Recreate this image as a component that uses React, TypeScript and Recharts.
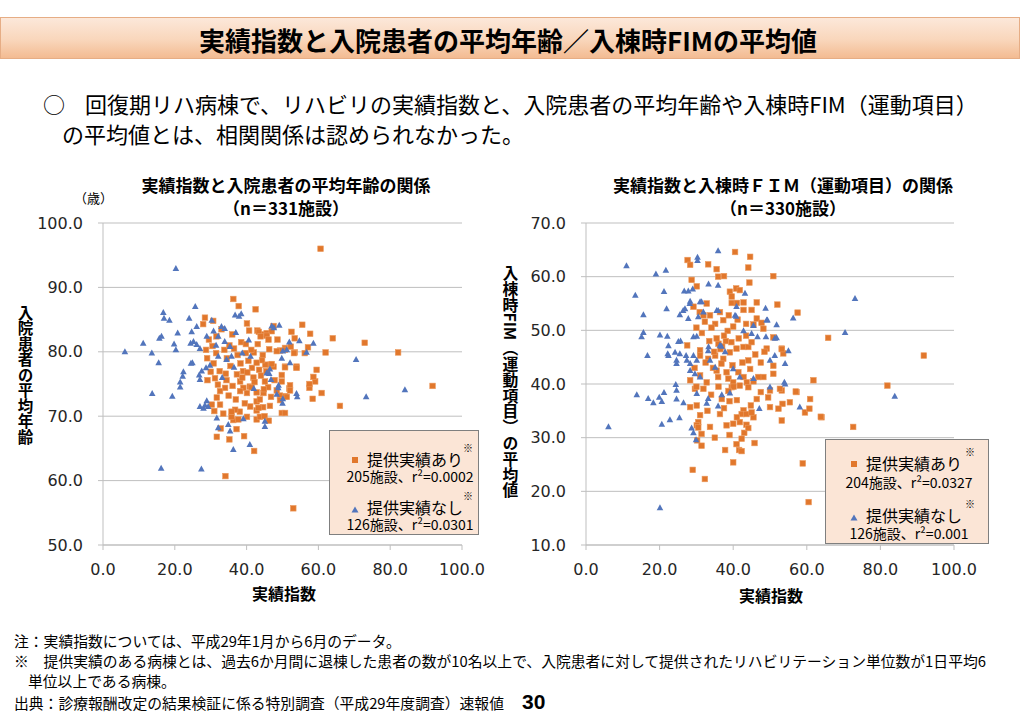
import React from 'react';
import { ScatterChart, Scatter, XAxis, YAxis, CartesianGrid } from 'recharts';

// 実績指数 × 入院患者の平均年齢（提供実績あり / なし）
const ageWith: [number, number][] = [
  [60.6, 96.0], [36.3, 88.2], [37.8, 87.1], [42.5, 86.6], [28.4, 85.3], [27.9, 84.3], [40.1, 84.4], [55.5, 84.2],
  [57.7, 82.8], [64.0, 82.1], [72.9, 81.4], [82.2, 79.9], [62.0, 79.9], [52.5, 83.1], [53.4, 82.1], [50.7, 80.6],
  [53.4, 79.9], [49.3, 80.2], [48.6, 81.9], [43.0, 83.3], [44.7, 82.7], [45.6, 82.9], [47.0, 83.2], [47.5, 84.0],
  [40.7, 83.3], [43.4, 83.1], [57.1, 80.7], [56.2, 79.8], [59.5, 77.2], [59.1, 75.4], [57.5, 74.4], [60.9, 73.6],
  [58.4, 72.7], [51.9, 74.3], [49.8, 75.4], [50.7, 73.1], [49.8, 70.5], [50.7, 70.5], [46.5, 71.6], [44.7, 73.6],
  [40.9, 74.6], [46.7, 78.0], [50.7, 77.7], [53.9, 77.7], [47.5, 77.7], [45.2, 78.0], [44.3, 78.7], [48.4, 80.1],
  [50.7, 80.3], [66.0, 71.6], [91.8, 74.7], [53.0, 55.7], [34.1, 60.7], [42.1, 64.6], [31.7, 66.8], [35.2, 66.4],
  [39.3, 66.9], [32.8, 68.1], [36.3, 69.4], [37.7, 69.5], [40.1, 69.9], [42.8, 69.5], [43.7, 69.9], [37.2, 68.0],
  [35.8, 69.9], [38.1, 70.7], [42.8, 70.9], [44.6, 71.4], [42.8, 72.3], [52.1, 74.8], [49.8, 76.4], [58.6, 76.1],
  [57.5, 75.0], [49.3, 73.2], [48.4, 74.0], [41.4, 74.5], [42.8, 73.7], [43.7, 72.6], [46.0, 74.5], [40.1, 73.6],
  [39.1, 74.4], [38.2, 73.9], [36.1, 74.7], [34.0, 74.4], [32.6, 73.9], [31.7, 72.9], [30.3, 71.8], [32.6, 71.8],
  [29.1, 75.6], [31.2, 75.9], [34.4, 75.6], [38.2, 75.4], [41.9, 76.0], [45.1, 75.4], [36.8, 71.0], [35.8, 70.7],
  [43.3, 71.3], [52.1, 74.0], [51.2, 73.0], [49.3, 72.5], [50.7, 77.6], [53.9, 77.5], [47.0, 78.1], [52.3, 80.8],
  [53.2, 79.8], [45.6, 82.5], [46.1, 81.9], [43.9, 82.4], [30.7, 84.8], [29.5, 81.9], [30.5, 80.9], [31.5, 79.8],
  [29.0, 79.0], [30.8, 78.2], [32.5, 77.0], [33.8, 80.3], [34.5, 79.0], [35.5, 77.8], [36.5, 80.5], [37.5, 79.5],
  [38.3, 78.2], [39.0, 77.0], [39.8, 79.8], [40.5, 78.6], [41.5, 77.5], [42.0, 79.9], [42.8, 78.3], [43.5, 77.2],
  [44.5, 79.5], [45.5, 77.0], [46.3, 80.4], [38.5, 81.5], [36.0, 82.7], [33.0, 83.5], [31.6, 82.4], [37.3, 76.5],
  [40.2, 76.8], [44.0, 76.3], [34.2, 76.6], [30.0, 76.9], [32.0, 74.9], [35.0, 73.2], [37.0, 72.6], [39.5, 72.0],
  [41.0, 71.5], [38.8, 76.0], [42.2, 75.3], [44.8, 74.2], [46.8, 73.0], [47.8, 75.6], [31.0, 70.8], [33.5, 70.4],
  [45.0, 70.0], [46.2, 69.3], [39.8, 81.2], [41.3, 80.3], [43.1, 81.2], [35.2, 81.0], [28.7, 80.3],
];

const ageWithout: [number, number][] = [
  [20.3, 92.9], [25.7, 87.0], [16.8, 86.1], [17.0, 85.2], [18.5, 84.9], [24.0, 85.2], [38.5, 85.9], [37.9, 85.5],
  [36.8, 85.7], [16.3, 82.4], [15.7, 82.1], [20.8, 82.9], [24.7, 83.1], [26.1, 83.9], [11.2, 81.3], [6.1, 80.0],
  [13.6, 79.8], [19.8, 81.2], [20.3, 80.3], [15.5, 78.3], [24.9, 78.3], [22.4, 76.9], [25.2, 81.6], [24.4, 81.3],
  [30.3, 84.9], [33.0, 83.9], [33.9, 83.6], [47.0, 84.0], [49.1, 84.1], [47.6, 83.7], [58.6, 81.3], [56.7, 79.9],
  [54.7, 81.7], [51.9, 81.5], [51.2, 80.3], [49.8, 79.0], [52.1, 78.3], [46.3, 76.6], [46.8, 75.7], [48.8, 74.4],
  [48.4, 73.4], [50.0, 72.0], [54.1, 73.0], [70.5, 78.8], [84.1, 74.1], [73.3, 73.0], [13.7, 73.5], [19.3, 73.1],
  [21.5, 74.5], [21.5, 75.3], [22.2, 76.2], [27.0, 75.7], [27.5, 77.0], [28.7, 77.5], [29.8, 77.9], [28.9, 82.4],
  [32.1, 82.4], [33.9, 81.6], [35.4, 80.8], [26.1, 81.1], [27.0, 80.5], [32.1, 79.3], [34.4, 78.8], [35.8, 79.3],
  [40.6, 81.8], [41.1, 79.3], [45.6, 76.7], [46.5, 77.3], [27.0, 71.5], [28.9, 72.4], [29.3, 71.5], [28.0, 71.2],
  [31.7, 69.7], [32.1, 68.2], [34.9, 68.7], [35.4, 67.7], [36.3, 64.8], [39.1, 69.6], [40.9, 65.6], [45.1, 69.2],
  [45.1, 68.4], [16.2, 61.9], [27.4, 61.8], [53.9, 73.5], [50.1, 72.7], [48.9, 74.8], [50.1, 80.1], [24.5, 78.2],
  [26.8, 76.4], [28.4, 71.7], [30.8, 83.2], [31.5, 81.0], [37.0, 83.0], [38.8, 79.8], [36.5, 77.6], [33.2, 76.0],
  [42.0, 74.3],
];

// 実績指数 × 入棟時FIM（運動項目）の平均値
const fimWith: [number, number][] = [
  [27.6, 63.1], [28.3, 62.2], [28.7, 59.4], [30.1, 58.2], [33.2, 62.3], [35.5, 61.4], [35.9, 60.0], [37.5, 60.1],
  [40.5, 64.6], [44.6, 63.7], [44.1, 61.7], [50.9, 60.1], [44.4, 58.9], [39.1, 57.2], [40.8, 57.8], [41.8, 57.5],
  [39.6, 56.3], [39.6, 55.1], [41.0, 55.1], [42.8, 55.2], [46.4, 55.2], [52.0, 54.8], [57.5, 53.3], [42.8, 53.8],
  [45.0, 53.8], [46.4, 52.2], [32.8, 55.0], [29.2, 54.4], [30.9, 53.4], [31.9, 52.8], [33.7, 52.8], [36.4, 53.4],
  [37.3, 51.9], [35.1, 51.2], [32.3, 51.6], [34.1, 50.5], [38.5, 49.9], [40.0, 50.7], [45.5, 51.1], [48.2, 50.3],
  [50.9, 48.7], [53.2, 46.6], [65.8, 48.6], [91.8, 45.3], [47.7, 51.4], [53.6, 45.7], [27.5, 47.2], [31.0, 46.3],
  [31.0, 45.3], [33.2, 44.7], [35.1, 45.3], [37.3, 44.7], [39.1, 45.9], [40.9, 46.6], [42.8, 46.9], [44.1, 46.9],
  [49.1, 46.6], [53.2, 46.5], [44.1, 44.4], [44.6, 42.8], [41.4, 42.2], [42.8, 41.3], [43.7, 40.3], [41.8, 39.7],
  [38.2, 42.2], [38.7, 41.0], [40.0, 40.3], [39.6, 39.4], [35.5, 42.5], [35.9, 41.3], [32.8, 40.3], [31.9, 39.1],
  [28.3, 40.7], [29.6, 39.1], [28.3, 35.7], [30.1, 36.0], [31.0, 34.2], [30.5, 32.9], [30.1, 32.3], [33.7, 32.0],
  [38.2, 32.3], [40.0, 32.6], [41.8, 32.9], [42.8, 35.1], [42.3, 34.4], [41.0, 33.8], [45.5, 33.8], [46.4, 37.2],
  [49.5, 37.5], [50.0, 35.7], [53.4, 36.3], [55.4, 36.6], [57.2, 38.5], [60.9, 37.2], [59.5, 34.7], [64.0, 33.8],
  [61.8, 40.7], [50.9, 41.9], [50.9, 43.4], [53.2, 38.8], [48.2, 41.3], [31.0, 41.6], [30.0, 39.5], [30.5, 31.9],
  [31.4, 30.7], [30.2, 29.5], [31.4, 28.5], [29.0, 24.0], [32.3, 22.3], [36.4, 34.4], [37.8, 27.7], [40.0, 25.4],
  [40.9, 28.8], [41.6, 27.7], [42.3, 29.8], [42.3, 27.5], [43.0, 30.9], [43.6, 32.4], [44.1, 31.8], [43.6, 34.4],
  [45.0, 34.7], [46.8, 41.3], [50.0, 38.8], [52.7, 39.1], [52.3, 35.4], [53.2, 33.2], [57.0, 38.6], [60.7, 35.4],
  [58.9, 25.2], [60.5, 18.0], [72.6, 32.0], [81.9, 39.7], [44.1, 39.4], [45.5, 40.5], [40.1, 39.5], [36.9, 37.2],
  [38.7, 38.7], [63.8, 33.9], [36.0, 47.5], [37.0, 47.0], [36.5, 46.5], [38.0, 48.0], [35.5, 48.5], [37.5, 49.0],
  [39.5, 47.8], [41.5, 48.5], [42.5, 44.0], [39.8, 43.5], [36.8, 43.8], [34.5, 43.0], [33.5, 48.0], [31.5, 49.5],
  [30.0, 50.5], [43.5, 49.0], [45.0, 47.8], [46.0, 45.5], [47.5, 44.0], [48.5, 46.0], [38.8, 52.8], [41.2, 52.0],
  [43.5, 51.2], [34.8, 46.0], [32.5, 44.0], [29.5, 43.0], [34.0, 38.0], [36.0, 39.5], [37.5, 35.5], [39.0, 36.8],
  [41.0, 37.0], [44.8, 36.0], [47.5, 38.5], [35.0, 30.0], [39.0, 30.5], [45.8, 29.0], [33.0, 35.0],
];

const fimWithout: [number, number][] = [
  [11.0, 62.0], [13.4, 56.5], [19.0, 60.5], [21.7, 61.2], [21.2, 57.2], [15.6, 52.9], [15.6, 49.6], [15.1, 48.8],
  [16.7, 45.3], [20.1, 49.1], [21.9, 54.0], [22.1, 48.9], [22.2, 45.6], [25.5, 52.9], [26.9, 54.0], [28.2, 55.0],
  [27.8, 57.3], [26.7, 57.3], [29.0, 57.7], [30.3, 63.6], [30.3, 63.0], [31.0, 55.3], [30.5, 52.5], [33.3, 58.6],
  [35.9, 64.8], [35.9, 58.4], [35.5, 53.7], [40.5, 52.8], [43.2, 56.9], [48.8, 54.1], [49.1, 51.9], [51.8, 51.0],
  [48.9, 48.8], [51.3, 48.5], [56.3, 52.3], [73.1, 55.9], [70.4, 49.6], [30.1, 48.9], [27.4, 44.4], [24.6, 44.4],
  [25.7, 48.0], [28.3, 55.4], [31.4, 55.3], [26.4, 53.7], [27.8, 52.2], [31.9, 53.4], [35.9, 53.7], [40.9, 54.4],
  [40.8, 52.6], [49.3, 51.9], [45.5, 50.9], [42.8, 49.9], [22.4, 47.1], [25.1, 47.9], [29.2, 48.8], [33.3, 46.9],
  [36.4, 47.2], [45.0, 49.4], [46.6, 48.8], [51.8, 48.6], [24.2, 45.9], [22.4, 45.3], [25.5, 45.6], [24.6, 43.8],
  [27.2, 45.3], [28.3, 43.8], [29.2, 45.3], [30.1, 44.4], [28.3, 42.5], [29.6, 41.9], [31.0, 41.3], [33.2, 46.2],
  [33.7, 44.4], [35.1, 43.1], [40.0, 42.8], [41.8, 41.3], [45.5, 41.0], [50.0, 44.4], [51.3, 45.3], [54.1, 43.8],
  [55.0, 46.2], [54.1, 40.0], [50.0, 39.4], [13.8, 38.0], [16.9, 37.3], [18.3, 36.5], [19.9, 37.5], [20.6, 36.7],
  [21.2, 38.4], [24.4, 39.9], [24.6, 38.8], [24.6, 37.2], [26.5, 36.5], [30.1, 38.2], [33.2, 37.3], [32.8, 36.4],
  [35.9, 35.9], [36.9, 38.0], [47.1, 35.4], [58.1, 35.7], [6.1, 32.0], [20.6, 32.5], [25.4, 33.7], [28.7, 31.8],
  [29.2, 30.9], [29.9, 29.6], [20.1, 16.9], [83.9, 37.7], [53.9, 40.3], [39.1, 38.3], [22.8, 33.3], [36.8, 47.0],
  [37.8, 46.0],
];

const xTicks = [0, 20, 40, 60, 80, 100];
const ageTicks = [50, 60, 70, 80, 90, 100];
const fimTicks = [10, 20, 30, 40, 50, 60, 70];

const ORANGE = '#E1772C';
const BLUE = '#5275BC';
const GRID = '#bfbfbf';
const JP = '"Noto Sans CJK JP", "Noto Sans", sans-serif';

const toPoints = (rows: [number, number][]) => rows.map(([x, y]) => ({ x, y }));

const Square = (props: any) => {
  const { cx, cy } = props;
  if (cx == null || cy == null) return null;
  return <rect x={cx - 2.8} y={cy - 2.8} width={5.6} height={5.6} fill={ORANGE} stroke="#ec9a5e" strokeWidth={0.6} />;
};

const Triangle = (props: any) => {
  const { cx, cy } = props;
  if (cx == null || cy == null) return null;
  return <polygon points={`${cx},${cy - 3.6} ${cx + 3.3},${cy + 2.4} ${cx - 3.3},${cy + 2.4}`} fill={BLUE} />;
};

const Txt = ({ x, y, size, bold, center, children, style }: any) => {
  const h = Math.round(size * 1.05);
  return (
    <div
      style={{
        position: 'absolute',
        left: x,
        top: y - h / 2,
        lineHeight: `${h}px`,
        fontSize: size,
        fontWeight: bold ? 700 : 400,
        fontFamily: JP,
        whiteSpace: 'nowrap',
        transform: center ? 'translateX(-50%)' : undefined,
        ...style,
      }}
    >
      {children}
    </div>
  );
};

const tickStyle = { fill: '#262626', fontSize: 16, fontFamily: '"DejaVu Sans", sans-serif' };

const Plot = ({ left, width, yWidth, right, withData, withoutData, yDomain, yTicks }: any) => (
  <div style={{ position: 'absolute', left, top: 213 }}>
    <ScatterChart width={width} height={400} margin={{ top: 10, right, bottom: 0, left: 0 }}>
      <CartesianGrid vertical={false} stroke={GRID} />
      <XAxis
        type="number"
        dataKey="x"
        domain={[0, 100]}
        ticks={xTicks}
        tickFormatter={(v: number) => v.toFixed(1)}
        height={68}
        tick={tickStyle}
        axisLine={{ stroke: GRID }}
        tickLine={{ stroke: GRID }}
        tickSize={5}
        tickMargin={14}
        interval={0}
      />
      <YAxis
        type="number"
        dataKey="y"
        domain={yDomain}
        ticks={yTicks}
        tickFormatter={(v: number) => v.toFixed(1)}
        width={yWidth}
        tick={tickStyle}
        axisLine={{ stroke: GRID }}
        tickLine={{ stroke: GRID }}
        tickSize={5}
        tickMargin={15}
        interval={0}
      />
      <Scatter data={toPoints(withData)} shape={Square} isAnimationActive={false} />
      <Scatter data={toPoints(withoutData)} shape={Triangle} isAnimationActive={false} />
    </ScatterChart>
  </div>
);

const Legend = ({ box, rows }: any) => (
  <>
    <div
      style={{
        position: 'absolute',
        left: box.x,
        top: box.y,
        width: box.w,
        height: box.h,
        background: '#fbe5d6',
        border: '1px solid #7f7f7f',
        boxSizing: 'border-box',
      }}
    />
    <div style={{ position: 'absolute', left: rows.mx - 3, top: rows.y1 - 2, width: 6, height: 6, background: ORANGE }} />
    <Txt x={rows.tx} y={rows.y1} size={16}>提供実績あり</Txt>
    <Txt x={rows.sx} y={rows.y1 - 12} size={10}>※</Txt>
    <Txt x={rows.cx} y={rows.y2} size={14} center>{rows.l2}</Txt>
    <svg style={{ position: 'absolute', left: rows.mx - 4, top: rows.y3 - 1 }} width={8} height={8}>
      <polygon points="4,0.5 7.5,6.5 0.5,6.5" fill={BLUE} />
    </svg>
    <Txt x={rows.tx} y={rows.y3} size={16}>提供実績なし</Txt>
    <Txt x={rows.sx} y={rows.y3 - 12} size={10}>※</Txt>
    <Txt x={rows.cx} y={rows.y4} size={14} center>{rows.l4}</Txt>
  </>
);

const vertical: React.CSSProperties = {
  position: 'absolute',
  writingMode: 'vertical-rl',
  fontFamily: JP,
  fontWeight: 700,
  lineHeight: 1,
  whiteSpace: 'nowrap',
};

export default function App() {
  return (
    <div style={{ position: 'absolute', left: 0, top: 0, width: 1024, height: 723, background: '#fff', color: '#000', fontFamily: JP, overflow: 'hidden' }}>
      {/* タイトル帯 */}
      <div
        style={{
          position: 'absolute',
          left: 0,
          top: 17,
          width: 1020,
          height: 42,
          background: 'linear-gradient(to bottom, #fce8da 0%, #f9d6bb 55%, #f3bb92 100%)',
          border: '1px solid #e6ad85',
          boxSizing: 'border-box',
        }}
      />
      <Txt x={508} y={39} size={26} bold center>実績指数と入院患者の平均年齢／入棟時FIMの平均値</Txt>

      <Txt x={43} y={103} size={22}>○</Txt>
      <Txt x={85} y={103} size={22}>回復期リハ病棟で、リハビリの実績指数と、入院患者の平均年齢や入棟時FIM（運動項目）</Txt>
      <Txt x={62} y={133} size={22}>の平均値とは、相関関係は認められなかった。</Txt>

      {/* 左：平均年齢 */}
      <Txt x={286} y={185} size={17} bold center>実績指数と入院患者の平均年齢の関係</Txt>
      <Txt x={286} y={208} size={17} bold center>（n＝331施設）</Txt>
      <Txt x={74} y={198} size={13}>（歳）</Txt>
      <div style={{ ...vertical, left: 17, top: 305, fontSize: 15.5 }}>入院患者の平均年齢</div>
      <Plot left={0} width={500} yWidth={103} right={38} withData={ageWith} withoutData={ageWithout} yDomain={[50, 100]} yTicks={ageTicks} />
      <Txt x={284} y={593} size={16} bold center>実績指数</Txt>
      <Legend
        box={{ x: 329, y: 430, w: 150, h: 105 }}
        rows={{ mx: 355, tx: 367, sx: 463, cx: 410, y1: 459, y2: 476, y3: 507, y4: 524, l2: '205施設、r²=0.0002', l4: '126施設、r²=0.0301' }}
      />

      {/* 右：入棟時FIM */}
      <Txt x={783} y={185} size={17} bold center>実績指数と入棟時ＦＩＭ（運動項目）の関係</Txt>
      <Txt x={783} y={208} size={17} bold center>（n＝330施設）</Txt>
      <div style={{ ...vertical, left: 502, top: 265, fontSize: 15.8 }}>入棟時FIM（運動項目）の平均値</div>
      <Plot left={480} width={510} yWidth={106} right={36} withData={fimWith} withoutData={fimWithout} yDomain={[10, 70]} yTicks={fimTicks} />
      <Txt x={771} y={595} size={16} bold center>実績指数</Txt>
      <Legend
        box={{ x: 825, y: 439, w: 164, h: 105 }}
        rows={{ mx: 854, tx: 866, sx: 965, cx: 909, y1: 463, y2: 482, y3: 515, y4: 533, l2: '204施設、r²=0.0327', l4: '126施設、r²=0.001' }}
      />

      {/* 注・出典 */}
      <Txt x={14} y={641} size={14.8}>注：実績指数については、平成29年1月から6月のデータ。</Txt>
      <Txt x={14} y={661} size={14.8}>※　提供実績のある病棟とは、過去6か月間に退棟した患者の数が10名以上で、入院患者に対して提供されたリハビリテーション単位数が1日平均6</Txt>
      <Txt x={28} y={681} size={14.8}>単位以上である病棟。</Txt>
      <Txt x={14} y={703} size={14.8}>出典：診療報酬改定の結果検証に係る特別調査（平成29年度調査）速報値</Txt>
      <Txt x={522} y={702} size={21} bold style={{ fontFamily: '"Liberation Sans", sans-serif' }}>30</Txt>
    </div>
  );
}
